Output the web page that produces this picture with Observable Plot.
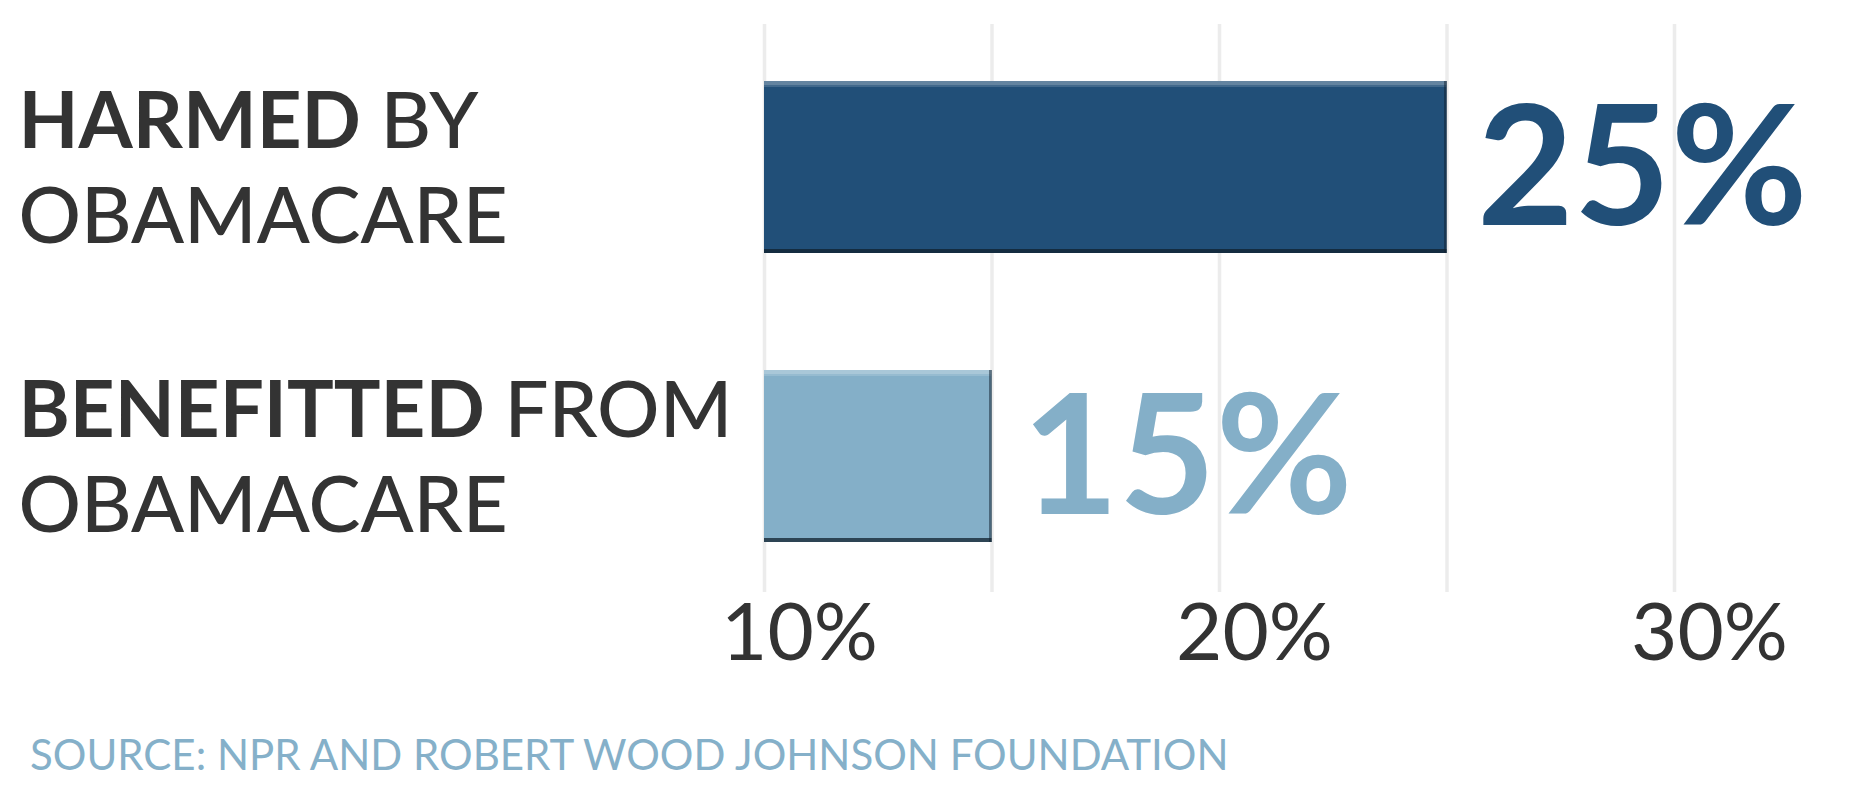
<!DOCTYPE html>
<html>
<head>
<meta charset="utf-8">
<script src="https://cdn.jsdelivr.net/npm/d3@7"></script>
<script src="https://cdn.jsdelivr.net/npm/@observablehq/plot@0.6"></script>
<style>
  html, body { margin: 0; padding: 0; background: #ffffff; }
  body { width: 1858px; height: 795px; position: relative; overflow: hidden; font-family: Lato, "Noto Sans", sans-serif; }
  #caption { position: absolute; left: 30px; top: 733px; font-family: Lato, sans-serif; font-size: 42px; line-height: 1; color: #85b0c9; white-space: nowrap; }
</style>
</head>
<body>
<div id="chart"></div>
<div id="caption">SOURCE: NPR AND ROBERT WOOD JOHNSON FOUNDATION</div>
<script>
// ---- data ----
const categories = ["HARMED BY OBAMACARE", "BENEFITTED FROM OBAMACARE"];
const labelLine1 = ["HARMED BY", "BENEFITTED FROM"];
const labelLine2 = ["OBAMACARE", "OBAMACARE"];
const boldWords = ["HARMED", "BENEFITTED"];
const values = [25, 15];
const barColors = ["#214f78", "#84afc8"];
const gridTicks = [10, 15, 20, 25, 30];
const axisTicks = [10, 20, 30];
const xDomain = [10, 30];

const data = categories.map((c, i) => ({
  category: c,
  value: values[i],
  label: labelLine1[i] + "\n" + labelLine2[i]
}));

const chart = Plot.plot({
  width: 1858,
  height: 690,
  marginLeft: 764,
  marginRight: 184,
  marginTop: 24,
  marginBottom: 98,
  style: { fontFamily: "Lato, sans-serif", background: "#ffffff", overflow: "visible" },
  x: { domain: xDomain, axis: null },
  y: { domain: categories, axis: null, paddingInner: 0.405, paddingOuter: 0.185, align: 0.53 },
  color: { domain: categories, range: barColors },
  marks: [
    Plot.gridX(gridTicks, { stroke: "#ececec", strokeOpacity: 1, strokeWidth: 3.5 }),
    Plot.barX(data, { x1: xDomain[0], x2: "value", y: "category", fill: "category" }),
    // bevel: light top edge
    Plot.barX(data, { x1: xDomain[0], x2: "value", y: "category", fill: "#ffffff", fillOpacity: 0.3, insetBottom: 168 }),
    Plot.barX(data, { x1: xDomain[0], x2: "value", y: "category", fill: "#ffffff", fillOpacity: 0.15, insetTop: 4, insetBottom: 166 }),
    // bevel: dark bottom edge
    Plot.barX(data, { x1: xDomain[0], x2: "value", y: "category", fill: "#10202e", fillOpacity: 0.75, insetTop: 168 }),
    // bevel: dark right edge
    Plot.tickX(data, { x: "value", y: "category", stroke: "#10202e", strokeOpacity: 0.5, strokeWidth: 3, dx: -1.5 }),
    Plot.text(data, {
      x: "value", y: "category", text: d => d.value + "%",
      fill: "category", fontSize: 167, fontWeight: "bold",
      textAnchor: "start", dx: 30, dy: 4
    }),
    Plot.text(data, {
      y: "category", text: "label", frameAnchor: "left",
      textAnchor: "start", lineAnchor: "middle", lineHeight: 1.218,
      dx: -746, dy: -2, fontSize: 78, fontWeight: 500, fill: "#333333"
    }),
    Plot.axisX(axisTicks, {
      tickFormat: d => d + "%", tickSize: 0, tickPadding: 11, label: null,
      fontSize: 80, dx: 35, fill: "#333333", anchor: "bottom"
    })
  ]
});

// make the first word of each category label bold
const ns = "http://www.w3.org/2000/svg";
chart.querySelectorAll("tspan, text").forEach(el => {
  if (el.childElementCount) return;
  const t = el.textContent;
  const w = boldWords.find(b => t.startsWith(b + " "));
  if (!w) return;
  el.textContent = "";
  const b = document.createElementNS(ns, "tspan");
  b.setAttribute("font-weight", "bold");
  b.textContent = w;
  const r = document.createElementNS(ns, "tspan");
  r.textContent = t.slice(w.length);
  el.append(b, r);
});

document.getElementById("chart").append(chart);
</script>
</body>
</html>
